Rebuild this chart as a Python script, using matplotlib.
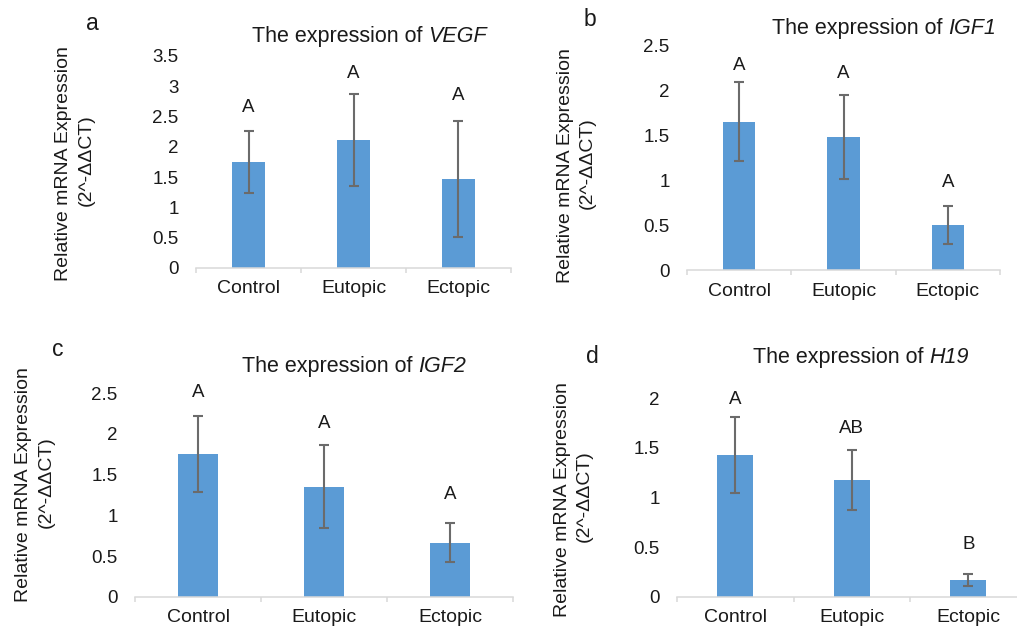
import matplotlib
matplotlib.use("Agg")
import matplotlib.pyplot as plt
from matplotlib.ticker import FixedLocator

plt.rcParams['font.family'] = ['Liberation Sans', 'DejaVu Sans']

# ---------------- data ----------------
categories = ["Control", "Eutopic", "Ectopic"]
genes = ["VEGF", "IGF1", "IGF2", "H19"]
panel_letters = ["a", "b", "c", "d"]

vegf_mean = [1.745, 2.12, 1.475]
vegf_err = [0.51, 0.76, 0.955]
vegf_sig = ["A", "A", "A"]

igf1_mean = [1.65, 1.483, 0.505]
igf1_err = [0.44, 0.47, 0.212]
igf1_sig = ["A", "A", "A"]

igf2_mean = [1.755, 1.353, 0.664]
igf2_err = [0.468, 0.509, 0.236]
igf2_sig = ["A", "A", "A"]

h19_mean = [1.428, 1.173, 0.165]
h19_err = [0.38, 0.301, 0.059]
h19_sig = ["A", "AB", "B"]

yticks_vegf = [0, 0.5, 1, 1.5, 2, 2.5, 3, 3.5]
yticks_igf1 = [0, 0.5, 1, 1.5, 2, 2.5]
yticks_igf2 = [0, 0.5, 1, 1.5, 2, 2.5]
yticks_h19 = [0, 0.5, 1, 1.5, 2]

title_prefix = "The expression of "
ylabel_1 = "Relative mRNA Expression"
ylabel_2 = "(2^-ΔΔCT)"

# ---------------- layout (pixels) ----------------
W, H = 1017, 631
BAR_COLOR = "#5B9BD5"
ERR_COLOR = "#6B6B6B"
AXIS_COLOR = "#D9D9D9"
TXT = "#1a1a1a"

panels = [
    dict(mean=vegf_mean, err=vegf_err, sig=vegf_sig, yticks=yticks_vegf,
         ax=(196, 511, 268, 56),
         sig_y=[2.58, 3.13, 2.77],
         title_xy=(251.7, 41.7), label_xy=(86, 30),
         yl1=(68.3, 163.3), yl2=(90.5, 160.0)),
    dict(mean=igf1_mean, err=igf1_err, sig=igf1_sig, yticks=yticks_igf1,
         ax=(687, 1000, 270, 45.7),
         sig_y=[2.23, 2.14, 0.93],
         title_xy=(771.7, 34.3), label_xy=(583.3, 26),
         yl1=(570, 165.8), yl2=(592, 163.3)),
    dict(mean=igf2_mean, err=igf2_err, sig=igf2_sig, yticks=yticks_igf2,
         ax=(135, 513, 596.7, 393.3),
         sig_y=[2.46, 2.07, 1.20],
         title_xy=(241.7, 372.3), label_xy=(51.7, 356),
         yl1=(28.3, 484.2), yl2=(50.5, 481.7)),
    dict(mean=h19_mean, err=h19_err, sig=h19_sig, yticks=yticks_h19,
         ax=(677, 1026.5, 596.7, 398.3),
         sig_y=[1.94, 1.65, 0.48],
         title_xy=(753.3, 362.7), label_xy=(586, 363.3),
         yl1=(566.7, 499.2), yl2=(589, 495.8)),
]

fig = plt.figure(figsize=(W / 100, H / 100), dpi=100)
fig.patch.set_facecolor("white")
renderer = fig.canvas.get_renderer()

for gene, plet, p in zip(genes, panel_letters, panels):
    l, r, yb, yt = p["ax"]
    ax = fig.add_axes([l / W, 1 - yb / H, (r - l) / W, (yb - yt) / H])
    x = list(range(len(categories)))
    ax.bar(x, p["mean"], width=0.31, color=BAR_COLOR, zorder=2)
    ax.errorbar(x, p["mean"], yerr=p["err"], fmt="none", ecolor=ERR_COLOR,
                elinewidth=1.5, capsize=3.6, capthick=1.5, zorder=3)
    for xi, s, sy in zip(x, p["sig"], p["sig_y"]):
        ax.text(xi, sy, s, ha="center", va="baseline", fontsize=13.5,
                color=TXT, clip_on=False)
    ax.set_xlim(-0.5, 2.5)
    ax.set_ylim(0, p["yticks"][-1])
    ax.set_yticks(p["yticks"])
    ax.set_yticklabels([f"{v:g}" for v in p["yticks"]])
    ax.set_xticks(x)
    ax.set_xticklabels(categories)
    ax.xaxis.set_minor_locator(FixedLocator([-0.5, 0.5, 1.5, 2.5]))
    ax.tick_params(axis="x", which="major", length=0, pad=9, labelsize=14,
                   labelcolor=TXT)
    ax.tick_params(axis="x", which="minor", length=3.6, width=1.1,
                   color=AXIS_COLOR, direction="out")
    ax.tick_params(axis="y", length=0, pad=12.5, labelsize=13.5,
                   labelcolor=TXT)
    for side in ["top", "right", "left"]:
        ax.spines[side].set_visible(False)
    ax.spines["bottom"].set_color(AXIS_COLOR)
    ax.spines["bottom"].set_linewidth(1.1)
    ax.patch.set_alpha(0)

    # title: regular prefix followed by italic gene name
    tx, ty = p["title_xy"]
    t1 = fig.text(tx / W, 1 - ty / H, title_prefix, ha="left", va="baseline",
                  fontsize=15.5, color=TXT)
    bb = t1.get_window_extent(renderer=renderer)
    fig.text(bb.x1 / W, 1 - ty / H, gene, ha="left", va="baseline",
             fontsize=15.5, style="italic", color=TXT)

    lx, ly = p["label_xy"]
    fig.text(lx / W, 1 - ly / H, plet, ha="left", va="baseline",
             fontsize=16.5, color=TXT)
    for (yx, yy), txt in ((p["yl1"], ylabel_1), (p["yl2"], ylabel_2)):
        fig.text(yx / W, 1 - yy / H, txt, rotation=90, rotation_mode="anchor",
                 ha="center", va="baseline", fontsize=14, color=TXT)

fig.savefig("out.png", dpi=100, facecolor="white")
